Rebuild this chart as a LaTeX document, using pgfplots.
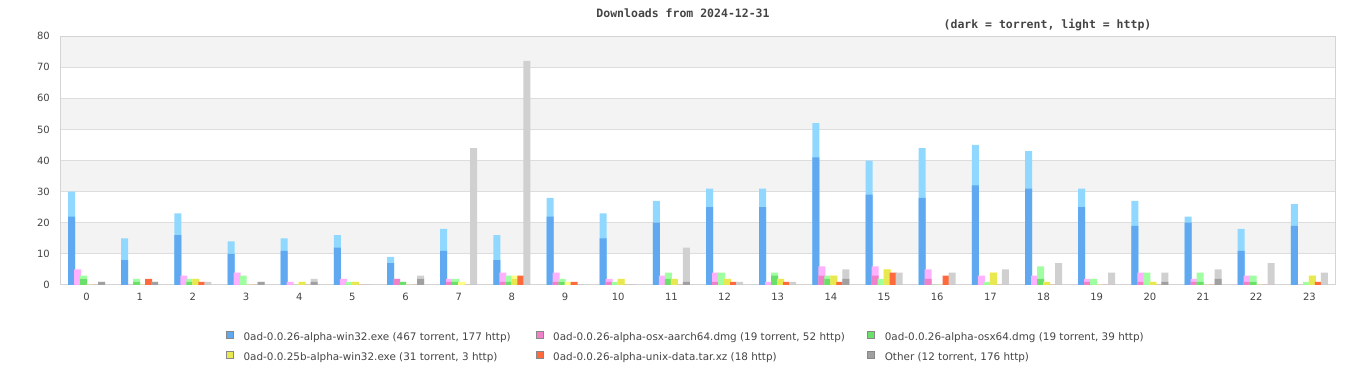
\documentclass[border=0pt]{standalone}
\usepackage{fontspec}
\setmainfont{DejaVu Sans}
\newfontfamily\titlefam{DejaVu Sans Mono}
\usepackage{pgfplots}
\usepackage{pgfplotstable}
\pgfplotsset{compat=1.18}

\definecolor{blueD}{HTML}{60A8F0}
\definecolor{blueL}{HTML}{90D8FF}
\definecolor{pinkD}{HTML}{F080C8}
\definecolor{pinkL}{HTML}{FFB0FF}
\definecolor{greenD}{HTML}{6AE06A}
\definecolor{greenL}{HTML}{A0FFA0}
\definecolor{yelD}{HTML}{E8E850}
\definecolor{yelL}{HTML}{FFFF88}
\definecolor{oraD}{HTML}{FF6A3D}
\definecolor{grayD}{HTML}{A0A0A0}
\definecolor{grayL}{HTML}{D0D0D0}
\definecolor{stripe}{HTML}{F3F3F3}
\definecolor{gridc}{HTML}{DDDDDD}
\definecolor{framec}{HTML}{D4D4D4}
\definecolor{labc}{HTML}{444444}
\definecolor{sqborder}{HTML}{888888}

% h = hour, t = torrent, w = http
\pgfplotstableread{
h t w
0 22 8
1 8 7
2 16 7
3 10 4
4 11 4
5 12 4
6 7 2
7 11 7
8 8 8
9 22 6
10 15 8
11 20 7
12 25 6
13 25 6
14 41 11
15 29 11
16 28 16
17 32 13
18 31 12
19 25 6
20 19 8
21 20 2
22 11 7
23 19 7
}\tblue
\pgfplotstableread{
h t w
0 0 5
1 0 0
2 0 3
3 0 4
4 0 1
5 0 2
6 2 0
7 1 1
8 1 3
9 1 3
10 1 1
11 0 3
12 1 3
13 0 1
14 3 3
15 3 3
16 2 3
17 0 3
18 0 3
19 1 1
20 1 3
21 1 1
22 1 2
23 0 0
}\tpink
\pgfplotstableread{
h t w
0 2 1
1 1 1
2 1 1
3 0 3
4 0 0
5 0 1
6 1 0
7 1 1
8 1 2
9 1 1
10 0 1
11 2 2
12 0 4
13 3 1
14 2 1
15 0 2
16 0 0
17 0 1
18 2 4
19 0 2
20 0 4
21 1 3
22 1 2
23 0 1
}\tgreen
\pgfplotstableread{
h t w
0 0 0
1 0 0
2 2 0
3 0 0
4 1 0
5 1 0
6 0 0
7 0 1
8 2 1
9 0 1
10 2 0
11 2 0
12 2 0
13 2 0
14 3 0
15 5 0
16 0 0
17 4 0
18 1 0
19 0 0
20 1 0
21 0 0
22 0 0
23 3 0
}\tyel
\pgfplotstableread{
h t w
0 0 0
1 0 2
2 0 1
3 0 0
4 0 0
5 0 0
6 0 0
7 0 0
8 0 3
9 0 1
10 0 0
11 0 0
12 0 1
13 0 1
14 0 1
15 0 4
16 0 3
17 0 0
18 0 0
19 0 0
20 0 0
21 0 0
22 0 0
23 0 1
}\tora
\pgfplotstableread{
h t w
0 1 0
1 1 0
2 0 1
3 1 0
4 1 1
5 0 0
6 2 1
7 0 44
8 0 72
9 0 0
10 0 0
11 1 11
12 0 1
13 0 1
14 2 3
15 0 4
16 0 4
17 0 5
18 0 7
19 0 4
20 1 3
21 2 3
22 0 7
23 0 4
}\tgray

\newcommand{\lent}[2]{\makebox[#1][l]{\hspace*{10bp}#2}}

\begin{document}
\begin{tikzpicture}
\node[font=\titlefam\bfseries\fontsize{11.5bp}{13bp}\selectfont, text=labc] at (683bp,367bp) {Downloads from 2024-12-31};
\node[font=\titlefam\bfseries\fontsize{11.5bp}{13bp}\selectfont, text=labc] at (1047.5bp,355bp) {(dark = torrent, light = http)};
\begin{axis}[
  set layers=standard,
  at={(60bp,95bp)}, anchor=south west,
  width=1276bp, height=249bp, scale only axis,
  xmin=-0.5, xmax=23.5, ymin=0, ymax=80,
  xtick={0,...,23}, ytick={0,10,...,80},
  ymajorgrids, grid style={draw=gridc, line width=1bp},
  axis line style={draw=framec, line width=1bp},
  major tick length=0pt,
  /pgf/number format/assume math mode=true,
  tick label style={font=\fontsize{10bp}{12bp}\selectfont, text=labc},
  yticklabel style={anchor=east, inner sep=0pt, xshift=-10bp},
  xticklabel style={anchor=north, inner sep=0pt, yshift=-8bp},
  legend columns=3,
  legend cell align=left,
  legend style={at={(0,0)}, anchor=north west, xshift=166bp, yshift=-46bp,
    draw=none, fill=none, inner sep=0pt, outer sep=0pt,
    row sep=9bp, column sep=0pt,
    font=\fontsize{10.4bp}{12bp}\selectfont,
    nodes={inner sep=0pt, text height=8bp, text depth=2bp, text=labc}},
  legend image code/.code={\draw[#1, draw=sqborder, line width=0.6bp] (0bp,-1bp) rectangle (7bp,6bp);},
]
\begin{pgfonlayer}{axis background}
  \fill[stripe] (axis cs:-0.5,70) rectangle (axis cs:23.5,80);
  \fill[stripe] (axis cs:-0.5,50) rectangle (axis cs:23.5,60);
  \fill[stripe] (axis cs:-0.5,30) rectangle (axis cs:23.5,40);
  \fill[stripe] (axis cs:-0.5,10) rectangle (axis cs:23.5,20);
\end{pgfonlayer}

\pgfplotsset{bb/.style={ybar, bar width=7bp, draw=none, forget plot}}
% blue
\addplot[bb, bar shift=-15bp, fill=blueL] table[x=h, y expr=\thisrow{t}+\thisrow{w}] {\tblue};
\addplot[bb, bar shift=-15bp, fill=blueD] table[x=h, y=t] {\tblue};
% pink
\addplot[bb, bar shift=-9bp, fill=pinkL] table[x=h, y expr=\thisrow{t}+\thisrow{w}] {\tpink};
\addplot[bb, bar shift=-9bp, fill=pinkD] table[x=h, y=t] {\tpink};
% green
\addplot[bb, bar shift=-3bp, fill=greenL] table[x=h, y expr=\thisrow{t}+\thisrow{w}] {\tgreen};
\addplot[bb, bar shift=-3bp, fill=greenD] table[x=h, y=t] {\tgreen};
% yellow
\addplot[bb, bar shift=3bp, fill=yelL] table[x=h, y expr=\thisrow{t}+\thisrow{w}] {\tyel};
\addplot[bb, bar shift=3bp, fill=yelD] table[x=h, y=t] {\tyel};
% orange
\addplot[bb, bar shift=9bp, fill=oraD] table[x=h, y expr=\thisrow{t}+\thisrow{w}] {\tora};
% gray
\addplot[bb, bar shift=15bp, fill=grayL] table[x=h, y expr=\thisrow{t}+\thisrow{w}] {\tgray};
\addplot[bb, bar shift=15bp, fill=grayD] table[x=h, y=t] {\tgray};

\addlegendimage{fill=blueD}
\addlegendentry{\lent{302bp}{0ad-0.0.26-alpha-win32.exe (467 torrent, 177 http)}}
\addlegendimage{fill=pinkD}
\addlegendentry{\lent{324bp}{0ad-0.0.26-alpha-osx-aarch64.dmg (19 torrent, 52 http)}}
\addlegendimage{fill=greenD}
\addlegendentry{\hspace*{10bp}0ad-0.0.26-alpha-osx64.dmg (19 torrent, 39 http)}
\addlegendimage{fill=yelD}
\addlegendentry{\lent{302bp}{0ad-0.0.25b-alpha-win32.exe (31 torrent, 3 http)}}
\addlegendimage{fill=oraD}
\addlegendentry{\lent{324bp}{0ad-0.0.26-alpha-unix-data.tar.xz (18 http)}}
\addlegendimage{fill=grayD}
\addlegendentry{\hspace*{10bp}Other (12 torrent, 176 http)}
\end{axis}
\pgfresetboundingbox
\useasboundingbox (0,0) rectangle (1366bp,380bp);
\end{tikzpicture}
\end{document}
